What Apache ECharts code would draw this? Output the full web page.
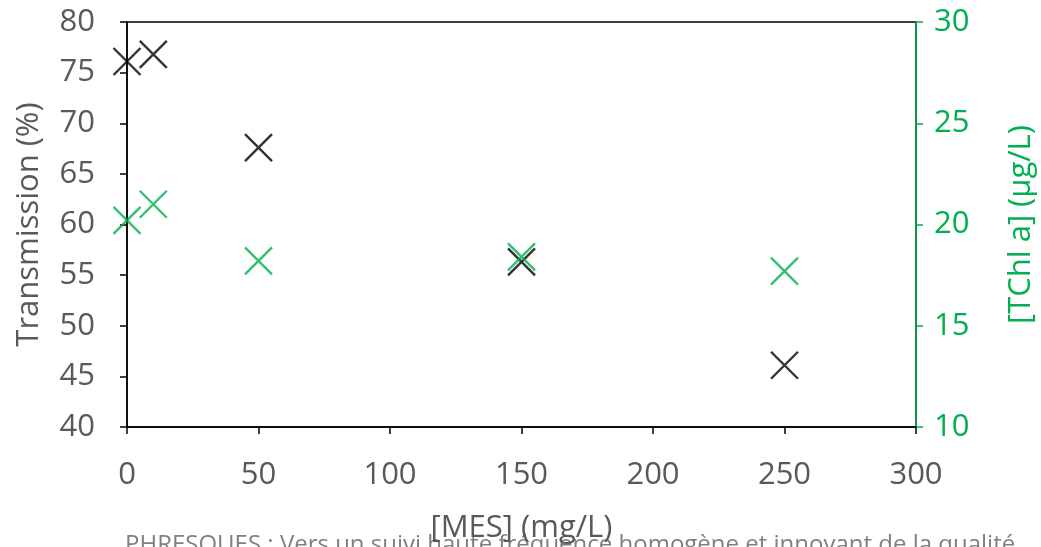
<!DOCTYPE html>
<html>
<head>
<meta charset="utf-8">
<script src="https://cdn.jsdelivr.net/npm/echarts@6/dist/echarts.min.js"></script>
<style>
html,body{margin:0;padding:0;background:#fff;}
#chart{width:1041px;height:547px;}
</style>
</head>
<body>
<div id="chart"></div>
<script>
// Data
const mes = [0, 10, 50, 150, 250];
const transmission = [76.1, 76.8, 67.6, 56.3, 46.1];
const tchla = [20.2, 21.0, 18.2, 18.4, 17.7];
const xTitle = '[MES] (mg/L)';
const yLeftTitle = 'Transmission (%)';
const yRightTitle = '[TChl a] (µg/L)';
const footer = 'PHRESQUES : Vers un suivi haute fréquence homogène et innovant de la qualité';

const FONT = 'Open Sans';
const FS = 31;
const GRAY = '#595959';
const GREEN = '#00B050';
const X_PATH = 'path://M0,0L10,10M10,0L0,10';

const chart = echarts.init(document.getElementById('chart'), null, {renderer: 'canvas'});
chart.setOption({
  animation: false,
  grid: {left: 127, right: 125, top: 22, bottom: 120, show: true, borderColor: '#000', borderWidth: 1.5,
         backgroundColor: 'transparent', containLabel: false, outerBoundsMode: 'none'},
  xAxis: {
    type: 'value', min: 0, max: 300, interval: 50,
    name: xTitle, nameLocation: 'middle', nameGap: 86,
    nameTextStyle: {fontFamily: FONT, fontSize: FS, color: GRAY},
    axisLine: {lineStyle: {color: '#000', width: 1.5}},
    axisTick: {show: true, inside: false, length: 7, lineStyle: {color: '#000', width: 1.5}},
    axisLabel: {fontFamily: FONT, fontSize: FS, color: GRAY, margin: 33},
    splitLine: {show: false}
  },
  yAxis: [{
    type: 'value', min: 40, max: 80, interval: 5, position: 'left',
    name: yLeftTitle, nameLocation: 'middle', nameGap: 82, nameRotate: 90,
    nameTextStyle: {fontFamily: FONT, fontSize: FS, color: GRAY},
    axisLine: {show: true, lineStyle: {color: '#000', width: 1.5}},
    axisTick: {show: true, length: 7, lineStyle: {color: '#000', width: 1.5}},
    axisLabel: {fontFamily: FONT, fontSize: FS, color: GRAY, margin: 32},
    splitLine: {show: false}
  }, {
    type: 'value', min: 10, max: 30, interval: 5, position: 'right',
    name: yRightTitle, nameLocation: 'middle', nameGap: 90, nameRotate: 90,
    nameTextStyle: {fontFamily: FONT, fontSize: FS, color: GREEN},
    axisLine: {show: true, lineStyle: {color: GREEN, width: 1.5}},
    axisTick: {show: true, length: 7, lineStyle: {color: GREEN, width: 1.5}},
    axisLabel: {fontFamily: FONT, fontSize: FS, color: GREEN, margin: 18},
    splitLine: {show: false}
  }],
  series: [{
    type: 'scatter', yAxisIndex: 0,
    data: mes.map((x, i) => [x, transmission[i]]),
    symbol: X_PATH, symbolSize: 27,
    itemStyle: {color: 'transparent', borderColor: '#000', borderWidth: 2.4}
  }, {
    type: 'scatter', yAxisIndex: 1,
    data: mes.map((x, i) => [x, tchla[i]]),
    symbol: X_PATH, symbolSize: 27,
    itemStyle: {color: 'transparent', borderColor: GREEN, borderWidth: 2.4}
  }],
  graphic: [{
    type: 'text', left: 125, top: 533,
    style: {text: footer, fontFamily: FONT, fontSize: 24, fill: '#808080'}
  }]
});
</script>
</body>
</html>
